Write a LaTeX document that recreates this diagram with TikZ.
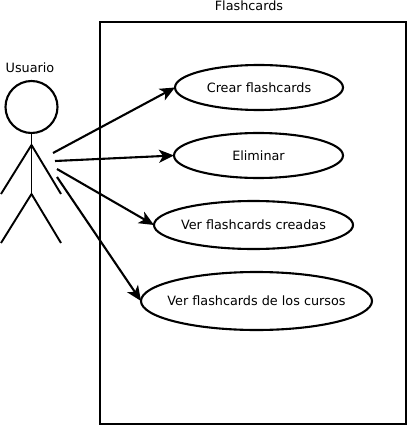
\documentclass[tikz,border=0pt]{standalone}
\usepackage{fontspec}
\setmainfont{DejaVu Sans}
\usetikzlibrary{positioning, shapes.geometric, arrows.meta}
\newcommand{\uctext}[1]{\makebox[0pt]{#1}}

\begin{document}
\begin{tikzpicture}[x=1pt, y=1pt, every node/.style={font=\fontsize{12.8}{15}\selectfont, outer sep=0pt},
    usecase/.style={ellipse, draw, line width=2.1pt, inner sep=0pt},
    limb/.style={line width=1.9pt, line join=round},
    link/.style={-{Stealth[length=15pt, width=13pt, inset=4pt]}, line width=2.1pt}]
    \useasboundingbox (0,0) rectangle (409,-428);
    % System boundary
    \node[rectangle, draw, line width=2.4pt, minimum width=306pt, minimum height=402pt](frame) at (253,-223){};
    \node[above=8pt of frame, xshift=-4pt](title){Flashcards};
    % Use cases
    \node[usecase, minimum width=168pt, minimum height=45pt](e1) at (259,-87.5){\uctext{Crear flashcards}};
    \node[usecase, below=23pt of e1, xshift=-0.5pt, minimum width=169pt, minimum height=45pt](e2){\uctext{Eliminar}};
    \node[usecase, below=23pt of e2, xshift=-5pt, minimum width=199pt, minimum height=48pt](e3){\uctext{Ver flashcards creadas}};
    \node[usecase, below=23pt of e3, xshift=3pt, minimum width=231pt, minimum height=58pt](e4){\uctext{Ver flashcards de los cursos}};
    % Actor
    \node[circle, draw, line width=2.1pt, minimum size=52pt, inner sep=0pt](head) at (31.5,-107){};
    \node[above=5pt of head, xshift=-1.5pt](actor){Usuario};
    \coordinate(hip) at (31.5,-194);
    \coordinate(neck) at (31.5,-145);
    \coordinate(handl) at (1,-194);
    \coordinate(handr) at (61,-194);
    \coordinate(footl) at (1,-243);
    \coordinate(footr) at (61,-243);
    \draw[limb] (head) -- (hip);
    \draw[limb] (handl) -- (neck) -- (handr);
    \draw[limb] (footl) -- (hip) -- (footr);
    % Actor to use case connections
    \coordinate(s1) at (53,-153);
    \coordinate(s2) at (55,-161);
    \coordinate(s3) at (57,-169);
    \coordinate(s4) at (57,-177);
    \draw[link] (s1) -- (e1.west);
    \draw[link] (s2) -- (e2.west);
    \draw[link] (s3) -- (e3.west);
    \draw[link] (s4) -- (e4.west);
\end{tikzpicture}
\end{document}
